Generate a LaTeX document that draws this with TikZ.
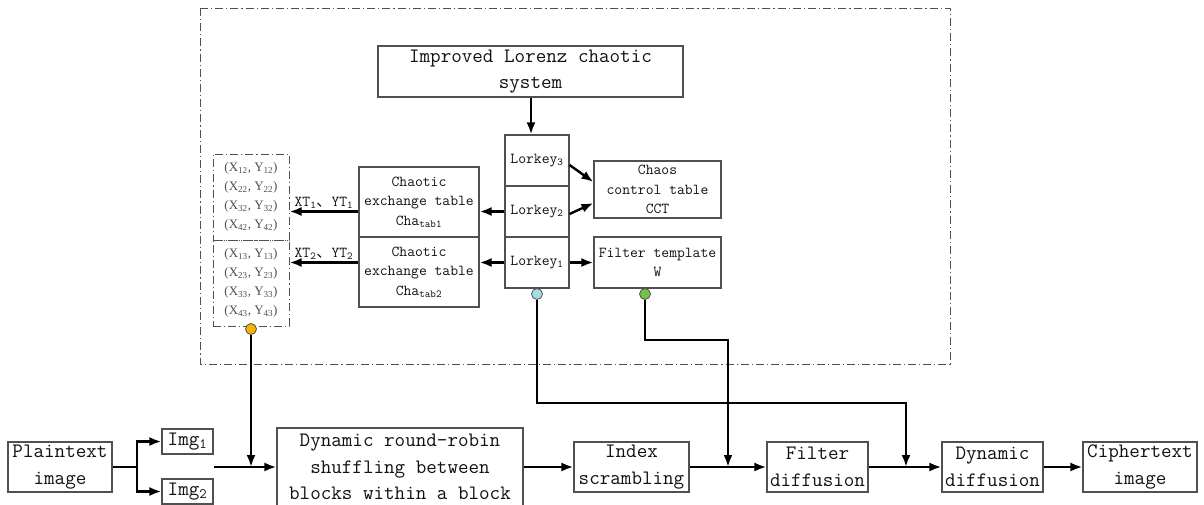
\documentclass[tikz,border=0pt]{standalone}
\usepackage{fontspec}
\usetikzlibrary{arrows.meta,calc}
\newfontfamily\serf{Liberation Serif}
\newfontfamily\cjkf{Noto Sans CJK SC}
\definecolor{boxgray}{HTML}{505050}
\definecolor{txt}{HTML}{111111}
\definecolor{orangedot}{HTML}{F5B400}
\definecolor{bluedot}{HTML}{A6DCE0}
\definecolor{greendot}{HTML}{78C043}
\newcommand{\bigf}{\fontsize{20.5}{26.5}\selectfont\ttfamily}
\newcommand{\smf}{\fontsize{15.2}{19.5}\selectfont\ttfamily}
\newcommand{\pairf}{\fontsize{13}{19.2}\selectfont\serf}
\begin{document}
\begin{tikzpicture}[x=1pt,y=-1pt,
  box/.style={draw=boxgray,line width=1.1pt,inner sep=0pt,align=center,text=txt},
  bigbox/.style={box,font=\bigf},
  smbox/.style={box,font=\smf},
  arr/.style={line width=2.4pt,-{Latex[length=12pt,width=9pt]}},
  ln/.style={line width=2.4pt},
  dashdot/.style={draw=boxgray,line width=1pt,dash pattern=on 8pt off 3pt on 1.2pt off 3pt},
  dot/.style={circle,draw=boxgray,line width=0.8pt,minimum size=11pt,inner sep=0pt}]
\useasboundingbox (0,0) rectangle (1204,504);
\fill[white] (0,0) rectangle (1204,504);
% outer dash-dot frame
\draw[dashdot] (200,8) rectangle (950,364);
% top part
\node[bigbox,minimum width=305,minimum height=51] (lorenz) at (530.5,71.5) {Improved Lorenz chaotic\\system};
\node[smbox,minimum width=64,minimum height=51] (lk3) at (537,160.5) {Lorkey\textsubscript{3}};
\node[smbox,minimum width=64,minimum height=51] (lk2) at (537,211.5) {Lorkey\textsubscript{2}};
\node[smbox,minimum width=64,minimum height=51] (lk1) at (537,262.5) {Lorkey\textsubscript{1}};
\node[smbox,minimum width=127,minimum height=57] (cct) at (657.5,189.5) {Chaos\\control table\\CCT};
\node[smbox,minimum width=127,minimum height=51] (ft) at (657.5,262.5) {Filter template\\W};
\node[smbox,minimum width=120,minimum height=70] (tab1) at (419,202) {Chaotic\\exchange table\\Cha\textsubscript{tab1}};
\node[smbox,minimum width=120,minimum height=70] (tab2) at (419,272) {Chaotic\\exchange table\\Cha\textsubscript{tab2}};
\node[dashdot,draw,minimum width=76,minimum height=86,inner sep=0pt,align=center,font=\pairf,text=boxgray] (d1) at (251,197)
  {(X\textsubscript{12}, Y\textsubscript{12})\\(X\textsubscript{22}, Y\textsubscript{22})\\(X\textsubscript{32}, Y\textsubscript{32})\\(X\textsubscript{42}, Y\textsubscript{42})};
\node[dashdot,draw,minimum width=76,minimum height=86,inner sep=0pt,align=center,font=\pairf,text=boxgray] (d2) at (251,283)
  {(X\textsubscript{13}, Y\textsubscript{13})\\(X\textsubscript{23}, Y\textsubscript{23})\\(X\textsubscript{33}, Y\textsubscript{33})\\(X\textsubscript{43}, Y\textsubscript{43})};
% top connectors
\draw[arr] ([xshift=-6]lk3.north |- lorenz.south) -- ([xshift=-6]lk3.north);
\draw[arr] ([yshift=-4.5]lk3.east) -- ([yshift=7.5]cct.west);
\draw[arr] ([yshift=-2.5]lk2.east) -- ([yshift=-13.5]cct.west);
\draw[arr] (lk1.east) -- (ft.west);
\draw[arr] (lk2.west) -- (lk2.west -| tab1.east);
\draw[arr] (lk1.west) -- (lk1.west -| tab2.east);
\draw[arr] (tab1.west |- lk2.west) -- (d1.east |- lk2.west)
  node[midway,above=-2pt,font=\smf,text=txt] (xt1) {XT\textsubscript{1}{\cjkf 、}YT\textsubscript{1}};
\draw[arr] (tab2.west |- lk1.west) -- (d2.east |- lk1.west)
  node[midway,above=-2pt,font=\smf,text=txt] (xt2) {XT\textsubscript{2}{\cjkf 、}YT\textsubscript{2}};
% bottom row
\node[bigbox,minimum width=104,minimum height=50] (plain) at (60,467) {Plaintext\\image};
\node[bigbox,minimum width=51,minimum height=25] (img1) at (187.5,441.5) {Img\textsubscript{1}};
\node[bigbox,minimum width=51,minimum height=25] (img2) at (187.5,491.5) {Img\textsubscript{2}};
\node[bigbox,minimum width=246,minimum height=78] (dyn) at (400,467) {Dynamic round-robin\\shuffling between\\blocks within a block};
\node[bigbox,minimum width=115,minimum height=50] (idx) at (631.5,467) {Index\\scrambling};
\node[bigbox,minimum width=101,minimum height=50] (fd) at (817.5,467) {Filter\\diffusion};
\node[bigbox,minimum width=101,minimum height=50] (dd) at (992.5,467) {Dynamic\\diffusion};
\node[bigbox,minimum width=114,minimum height=50] (ct) at (1140,467) {Ciphertext\\image};
\coordinate (j1) at (137,467);
\draw[ln] (plain.east) -- (j1);
\draw[arr] (j1) |- (img1.west);
\draw[arr] (j1) |- (img2.west);
\draw[arr] (img1.east |- dyn.west) -- (dyn.west);
\draw[arr] (dyn.east) -- (idx.west);
\draw[arr] (idx.east) -- (fd.west);
\draw[arr] (fd.east) -- (dd.west);
\draw[arr] (dd.east) -- (ct.west);
% dots and feeds
\node[dot,fill=orangedot] (od) at (251,329) {};
\node[dot,fill=bluedot] (bd) at (537,294) {};
\node[dot,fill=greendot] (gd) at (645,294) {};
\coordinate (b1) at (537,403);
\coordinate (b2) at (906,403);
\coordinate (g1) at (645,340);
\coordinate (g2) at (728,340);
\draw[arr] (od.south) -- (od.south |- dyn.west);
\draw[arr] (bd.south) -- (b1) -- (b2) -- (b2 |- dd.west);
\draw[arr] (gd.south) -- (g1) -- (g2) -- (g2 |- fd.west);
\end{tikzpicture}
\end{document}
